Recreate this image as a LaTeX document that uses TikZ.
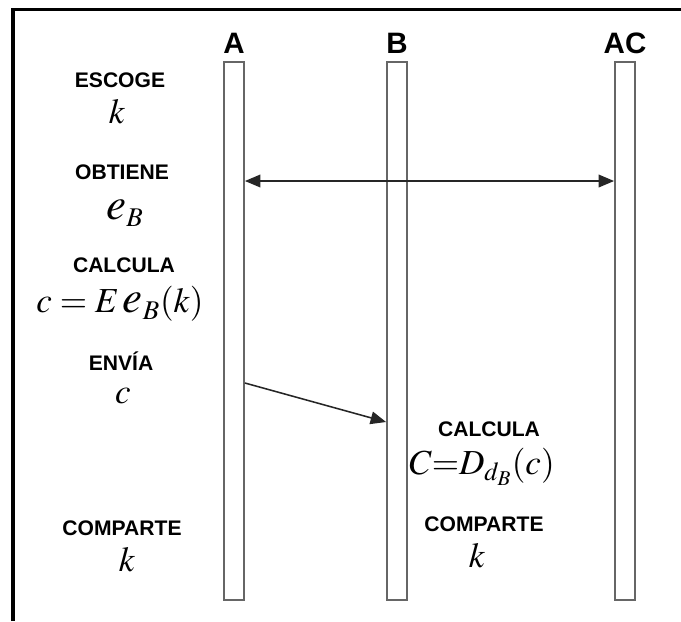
\documentclass[tikz,border=0pt]{standalone}
\usepackage{mathptmx}
\usepackage{fontspec}
\setsansfont{Liberation Sans}
\usetikzlibrary{arrows.meta,positioning}

\tikzset{
  actor/.style={font=\sffamily\bfseries\fontsize{21}{24}\selectfont, inner sep=0pt},
  accion/.style={font=\sffamily\bfseries\fontsize{15}{18}\selectfont, inner sep=0pt},
  formula/.style={font=\fontsize{25}{30}\selectfont, inner sep=0pt},
  lifeline/.style={draw=black!60, line width=1.3pt, fill=white, inner sep=0pt,
    minimum width=0.5cm, minimum height=13.45cm},
  msg/.style={line width=1.1pt, black!85},
}
\newcommand{\bige}{\mbox{\fontsize{32}{38}\selectfont$e_{\scriptscriptstyle B}$}}

\begin{document}
\begin{tikzpicture}[x=0.025cm, y=-0.025cm]
  \useasboundingbox (0,0) rectangle (681,621);
  % frame (top and left side only)
  \draw[line width=2.8pt] (13,621) -- (13,9.5) -- (681,9.5);
  % participants
  \node[actor] (A) at (234,43) {A};
  \node[actor] (B) at (397,43) {B};
  \node[actor] (AC) at (625,43) {AC};
  \node[lifeline] (lA) at (234,331) {};
  \node[lifeline] (lB) at (397,331) {};
  \node[lifeline] (lAC) at (625,331) {};
  % steps of A
  \node[accion] (escoge) at (120,80) {ESCOGE};
  \node[formula] (kA) at (117,112) {$k$};
  \node[accion] (obtiene) at (122,172) {OBTIENE};
  \node[formula] (eB) at (125,213) {\bige};
  \node[accion] (calculaA) at (124,265) {CALCULA};
  \node[formula] (cifra) at (120,304) {$c = E\,$\bige$(k)$};
  \node[accion] (envia) at (121,361) {ENVÍA};
  \node[formula] (cA) at (123,396) {$c$};
  \node[accion] (comparteA) at (122,528) {COMPARTE};
  \node[formula] (kA2) at (127,560) {$k$};
  % steps of B
  \node[accion] (calculaB) at (489,429) {CALCULA};
  \node[formula] (descifra) at (482,467) {$C{=}D_{d_B}(c)$};
  \node[accion] (comparteB) at (484,524) {COMPARTE};
  \node[formula] (kB) at (477,556) {$k$};
  % messages
  \coordinate (q1) at (0,181);
  \coordinate (s1) at (0,383);
  \coordinate (s2) at (0,422);
  \draw[msg, {Triangle[length=11pt,width=9pt]}-{Triangle[length=11pt,width=9pt]}]
    (lA.east |- q1) -- (lAC.west |- q1);
  \draw[msg, -{Triangle[length=11pt,width=9pt]}] (lA.east |- s1) -- (lB.west |- s2);
\end{tikzpicture}
\end{document}
